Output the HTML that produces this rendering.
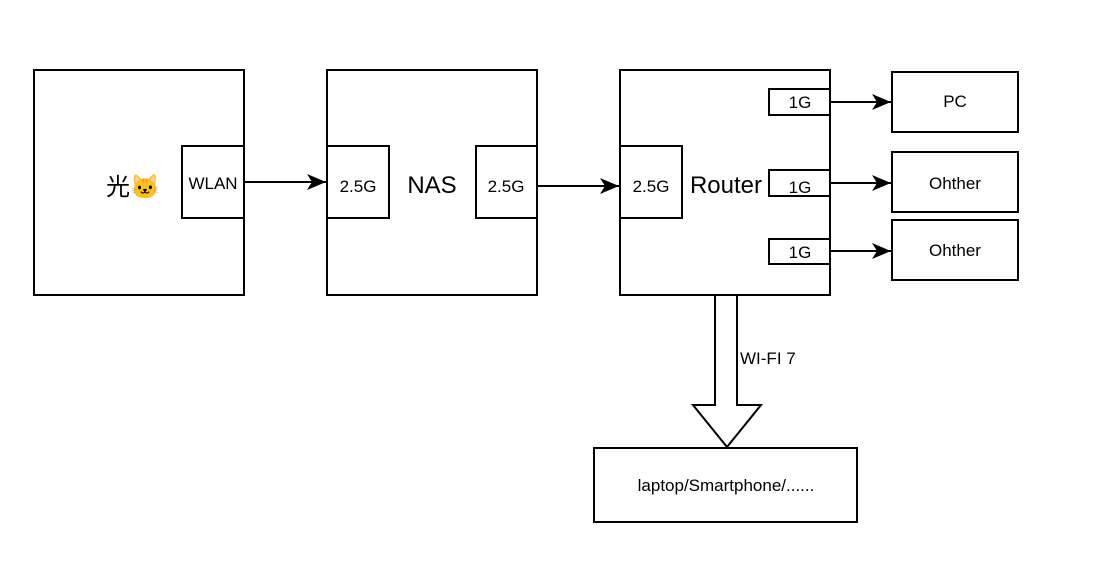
<!DOCTYPE html>
<html><head><meta charset="utf-8"><style>
html,body{margin:0;padding:0;background:#fff;}
svg text{font-family:"Liberation Sans","Noto Sans CJK SC",sans-serif;fill:#000;}
</style></head><body>
<svg width="1102" height="559" xmlns="http://www.w3.org/2000/svg">
<defs><marker id="a" markerWidth="20" markerHeight="18" refX="19" refY="9" orient="auto" markerUnits="userSpaceOnUse"><path d="M0,1 L19,9 L0,17 L5,9 Z" fill="#000"/></marker></defs>
<g fill="#fff" stroke="#000" stroke-width="2">
<rect x="34" y="70" width="210" height="225"/>
<rect x="182" y="146" width="62" height="72"/>
<rect x="327" y="70" width="210" height="225"/>
<rect x="327" y="146" width="62" height="72"/>
<rect x="476" y="146" width="61" height="72"/>
<rect x="620" y="70" width="210" height="225"/>
<rect x="620" y="146" width="62" height="72"/>
<rect x="769" y="89" width="61" height="26"/>
<rect x="769" y="170" width="61" height="26"/>
<rect x="769" y="239" width="61" height="25"/>
<rect x="892" y="72" width="126" height="60"/>
<rect x="892" y="152" width="126" height="60"/>
<rect x="892" y="220" width="126" height="60"/>
<rect x="594" y="448" width="263" height="74"/>
<path d="M715,295 L737,295 L737,405 L761,405 L727,447 L693,405 L715,405 Z"/>
</g>
<g stroke="#000" stroke-width="2" fill="none">
<line x1="244" y1="182" x2="326" y2="182" marker-end="url(#a)"/>
<line x1="537" y1="186" x2="619" y2="186" marker-end="url(#a)"/>
<line x1="830" y1="102" x2="891" y2="102" marker-end="url(#a)"/>
<line x1="830" y1="183" x2="891" y2="183" marker-end="url(#a)"/>
<line x1="830" y1="251" x2="891" y2="251" marker-end="url(#a)"/>
</g>
<text x="106" y="195" font-size="24">光🐱</text>
<text x="213" y="189" font-size="17" text-anchor="middle">WLAN</text>
<text x="358" y="192" font-size="17" text-anchor="middle">2.5G</text>
<text x="432" y="193" font-size="24" text-anchor="middle">NAS</text>
<text x="506" y="192" font-size="17" text-anchor="middle">2.5G</text>
<text x="651" y="192" font-size="17" text-anchor="middle">2.5G</text>
<text x="726" y="193" font-size="24" text-anchor="middle">Router</text>
<text x="800" y="108" font-size="17" text-anchor="middle">1G</text>
<text x="800" y="193" font-size="17" text-anchor="middle">1G</text>
<text x="800" y="258" font-size="17" text-anchor="middle">1G</text>
<text x="955" y="107" font-size="17" text-anchor="middle">PC</text>
<text x="955" y="189" font-size="17" text-anchor="middle">Ohther</text>
<text x="955" y="256" font-size="17" text-anchor="middle">Ohther</text>
<text x="740" y="364" font-size="17">WI-FI 7</text>
<text x="726" y="491" font-size="17" text-anchor="middle">laptop/Smartphone/......</text>
</svg>
</body></html>
